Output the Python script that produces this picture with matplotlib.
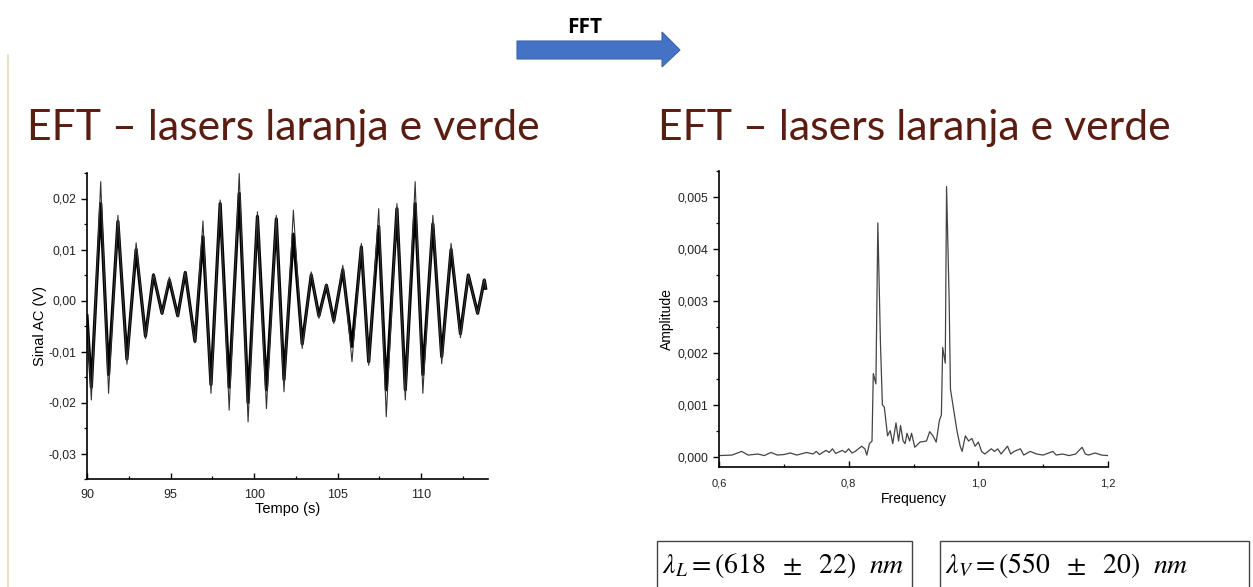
import matplotlib
matplotlib.use("Agg")
import matplotlib.pyplot as plt
from matplotlib.patches import Polygon, Rectangle
from matplotlib.lines import Line2D
from matplotlib.ticker import MultipleLocator, FuncFormatter

plt.rcParams['font.family'] = ['Liberation Sans', 'DejaVu Sans']
plt.rcParams['mathtext.fontset'] = 'stix'

# extrema of the AC signal (t in s, V)
tempo = [90.00, 90.26, 90.82, 91.29, 91.85, 92.39, 92.94, 93.50, 93.98, 94.49,
         94.93, 95.43, 95.88, 96.46, 96.94, 97.42, 97.97, 98.51, 99.11, 99.64,
         100.20, 100.74, 101.33, 101.79, 102.35, 102.88, 103.42, 103.88, 104.33, 104.77,
         105.31, 105.86, 106.42, 106.86, 107.46, 107.91, 108.55, 109.05, 109.64, 110.10,
         110.70, 111.23, 111.79, 112.35, 112.82, 113.38, 113.78, 113.86]
sinal_pico = [-0.0030, -0.0195, 0.0233, -0.0182, 0.0167, -0.0125, 0.0113, -0.0075, 0.0053, -0.0027,
              0.0046, -0.0032, 0.0056, -0.0083, 0.0156, -0.0182, 0.0197, -0.0215, 0.0249, -0.0238,
              0.0174, -0.0212, 0.0167, -0.0179, 0.0177, -0.0094, 0.0056, -0.0035, 0.0032, -0.0045,
              0.0069, -0.0120, 0.0112, -0.0127, 0.0180, -0.0228, 0.0190, -0.0195, 0.0233, -0.0182,
              0.0167, -0.0124, 0.0112, -0.0073, 0.0051, -0.0027, 0.0042, 0.0024]
# level of the dense (thick) band at each extremum
sinal_banda = [-0.0030, -0.0170, 0.0190, -0.0145, 0.0155, -0.0115, 0.0100, -0.0070, 0.0050, -0.0025,
               0.0040, -0.0030, 0.0055, -0.0080, 0.0125, -0.0165, 0.0190, -0.0170, 0.0210, -0.0200,
               0.0165, -0.0175, 0.0160, -0.0155, 0.0130, -0.0085, 0.0050, -0.0030, 0.0030, -0.0040,
               0.0060, -0.0090, 0.0105, -0.0120, 0.0145, -0.0175, 0.0180, -0.0175, 0.0190, -0.0145,
               0.0150, -0.0110, 0.0100, -0.0065, 0.0050, -0.0025, 0.0040, 0.0024]

# FFT spectrum
freq = [0.600, 0.620, 0.635, 0.645, 0.660, 0.670, 0.680, 0.690, 0.700, 0.710,
        0.720, 0.735, 0.745, 0.750, 0.755, 0.765, 0.770, 0.775, 0.780, 0.790,
        0.795, 0.800, 0.805, 0.810, 0.820, 0.825, 0.828, 0.832, 0.836, 0.838,
        0.842, 0.845, 0.849, 0.852, 0.855, 0.860, 0.864, 0.868, 0.873, 0.877,
        0.880, 0.884, 0.887, 0.890, 0.894, 0.897, 0.902, 0.910, 0.920, 0.925,
        0.930, 0.935, 0.940, 0.943, 0.945, 0.949, 0.951, 0.955, 0.957, 0.962,
        0.967, 0.972, 0.975, 0.980, 0.985, 0.990, 0.995, 1.000, 1.005, 1.010,
        1.020, 1.025, 1.030, 1.035, 1.045, 1.050, 1.055, 1.065, 1.070, 1.080,
        1.090, 1.100, 1.115, 1.120, 1.130, 1.140, 1.150, 1.160, 1.165, 1.170,
        1.180, 1.190, 1.200]
amplitude = [0.00002, 0.00003, 0.00010, 0.00003, 0.00005, 0.00002, 0.00008, 0.00003, 0.00004, 0.00007,
             0.00003, 0.00008, 0.00005, 0.00010, 0.00004, 0.00012, 0.00008, 0.00015, 0.00006, 0.00012,
             0.00008, 0.00015, 0.00007, 0.00010, 0.00020, 0.00015, 0.00003, 0.00025, 0.00030, 0.00160,
             0.00140, 0.00450, 0.00220, 0.00100, 0.00095, 0.00040, 0.00050, 0.00025, 0.00065, 0.00030,
             0.00060, 0.00030, 0.00025, 0.00045, 0.00030, 0.00045, 0.00018, 0.00028, 0.00030, 0.00048,
             0.00040, 0.00028, 0.00070, 0.00080, 0.00210, 0.00180, 0.00520, 0.00300, 0.00130, 0.00090,
             0.00050, 0.00020, 0.00010, 0.00040, 0.00030, 0.00035, 0.00020, 0.00028, 0.00010, 0.00005,
             0.00015, 0.00010, 0.00015, 0.00005, 0.00020, 0.00005, 0.00010, 0.00015, 0.00003, 0.00010,
             0.00005, 0.00003, 0.00010, 0.00003, 0.00005, 0.00002, 0.00005, 0.00018, 0.00005, 0.00003,
             0.00007, 0.00003, 0.00002]

titulo = "EFT – lasers laranja e verde"
cor_titulo = "#5a1d12"

W, H = 1253, 587
fig = plt.figure(figsize=(W / 100, H / 100), dpi=100)


def fx(px):
    return px / W


def fy(py):
    return 1 - py / H


def virgula(v, casas):
    s = f"{v:.{casas}f}".replace(".", ",")
    if s.startswith("-") and set(s[1:]) <= set("0,"):
        s = s[1:]
    return s


def estilo(ax, tam_x, tam_y, pad_x):
    for s in ("top", "right"):
        ax.spines[s].set_visible(False)
    for s in ("left", "bottom"):
        ax.spines[s].set_linewidth(1.2)
    ax.xaxis.set_tick_params(which="major", direction="in", length=4, width=1,
                             labelsize=tam_x, labelcolor="#222222", pad=pad_x)
    ax.xaxis.set_tick_params(which="minor", direction="in", length=2.5, width=0.9)
    ax.yaxis.set_tick_params(which="major", direction="out", length=4, width=1,
                             labelsize=tam_y, labelcolor="#222222")
    ax.yaxis.set_tick_params(which="minor", direction="out", length=2.5, width=0.9)


# left panel: time signal
ax1 = fig.add_axes([fx(87), fy(479), fx(488) - fx(87), fy(173) - fy(479)])
ax1.plot(tempo, sinal_banda, color="black", lw=2.3)
ax1.plot(tempo, sinal_pico, color="#333333", lw=0.8)
ax1.set_xlim(90, 114)
ax1.set_ylim(-0.035, 0.025)
ax1.xaxis.set_major_locator(MultipleLocator(5))
ax1.xaxis.set_minor_locator(MultipleLocator(2.5))
ax1.yaxis.set_major_locator(MultipleLocator(0.01))
ax1.yaxis.set_minor_locator(MultipleLocator(0.005))
ax1.xaxis.set_major_formatter(FuncFormatter(lambda v, p: f"{v:.0f}"))
ax1.yaxis.set_major_formatter(FuncFormatter(lambda v, p: virgula(v, 2)))
ax1.set_xlabel("Tempo (s)", fontsize=10.5, labelpad=1)
ax1.set_ylabel("Sinal AC (V)", fontsize=10.5, labelpad=1)
estilo(ax1, 9, 8.8, 7)

# right panel: spectrum
ax2 = fig.add_axes([fx(719), fy(467), fx(1108) - fx(719), fy(171) - fy(467)])
ax2.plot(freq, amplitude, color="#444444", lw=0.9)
ax2.set_xlim(0.6, 1.2)
ax2.set_ylim(-0.0002, 0.0055)
ax2.xaxis.set_major_locator(MultipleLocator(0.2))
ax2.xaxis.set_minor_locator(MultipleLocator(0.1))
ax2.yaxis.set_major_locator(MultipleLocator(0.001))
ax2.yaxis.set_minor_locator(MultipleLocator(0.0005))
ax2.xaxis.set_major_formatter(FuncFormatter(lambda v, p: virgula(v, 1)))
ax2.yaxis.set_major_formatter(FuncFormatter(lambda v, p: virgula(v, 3)))
ax2.set_xlabel("Frequency", fontsize=10, labelpad=3)
ax2.set_ylabel("Amplitude", fontsize=10, labelpad=3)
estilo(ax2, 8, 8.8, 8)

# slide titles
for x0 in (27, 658):
    fig.text(fx(x0), fy(140), titulo, fontsize=30.8, color=cor_titulo, family="Lato",
             ha="left", va="baseline")

# FFT arrow
seta = [(517, 41), (662, 41), (662, 32), (680, 50), (662, 67), (662, 59), (517, 59)]
fig.patches.append(Polygon([(fx(x), fy(y)) for x, y in seta], closed=True,
                           transform=fig.transFigure, facecolor="#4472c4",
                           edgecolor="#3a64b0", lw=0.8))
fig.text(fx(585), fy(33), "FFT", fontsize=15, fontweight="bold", family="Open Sans",
         ha="center", va="baseline")

# faint slide edge on the left
fig.lines.append(Line2D([fx(8), fx(8)], [fy(55), 0], transform=fig.transFigure,
                        color="#eadfcd", lw=1.5))

# result boxes
for x0, x1, txt in [(657, 912, r"$\lambda_L = (618\ \ \pm\ \ 22)\ \ nm$"),
                    (940, 1249, r"$\lambda_V = (550\ \ \pm\ \ 20)\ \ nm$")]:
    fig.patches.append(Rectangle((fx(x0), fy(595)), fx(x1) - fx(x0), fy(541) - fy(595),
                                 transform=fig.transFigure, facecolor="none",
                                 edgecolor="#444444", lw=1))
    fig.text(fx(x0 + 5), fy(566), txt, fontsize=20, ha="left", va="center")

fig.savefig("out.png", dpi=100, facecolor="white")
